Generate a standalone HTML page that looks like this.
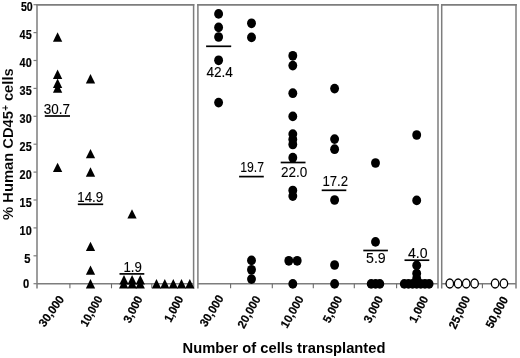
<!DOCTYPE html>
<html><head><meta charset="utf-8"><title>chart</title>
<style>
html,body{margin:0;padding:0;background:#fff;}
svg{display:block;filter:grayscale(1);}
text{font-family:"Liberation Sans",sans-serif;fill:#000;}
.b{font-weight:bold;}
.r{font-weight:normal;}
</style></head><body>
<svg width="520" height="358" viewBox="0 0 520 358">
<rect width="520" height="358" fill="#fff"/>
<line x1="37.0" y1="3.9" x2="37.0" y2="288.5" stroke="#7d7d7d" stroke-width="1.5"/>
<line x1="193.6" y1="3.9" x2="193.6" y2="288.5" stroke="#7d7d7d" stroke-width="1.5"/>
<line x1="36.3" y1="4.8" x2="194.29999999999998" y2="4.8" stroke="#7d7d7d" stroke-width="1.8"/>
<line x1="37.0" y1="283.8" x2="193.6" y2="283.8" stroke="#7d7d7d" stroke-width="1.6"/>
<line x1="69.9" y1="283.7" x2="69.9" y2="288.3" stroke="#6a6a6a" stroke-width="1.1"/>
<line x1="111.5" y1="283.7" x2="111.5" y2="288.3" stroke="#6a6a6a" stroke-width="1.1"/>
<line x1="151.8" y1="283.7" x2="151.8" y2="288.3" stroke="#6a6a6a" stroke-width="1.1"/>
<line x1="197.9" y1="3.9" x2="197.9" y2="288.5" stroke="#7d7d7d" stroke-width="1.5"/>
<line x1="438.0" y1="3.9" x2="438.0" y2="288.5" stroke="#7d7d7d" stroke-width="1.5"/>
<line x1="197.20000000000002" y1="4.8" x2="438.7" y2="4.8" stroke="#7d7d7d" stroke-width="1.8"/>
<line x1="197.9" y1="283.8" x2="438.0" y2="283.8" stroke="#7d7d7d" stroke-width="1.6"/>
<line x1="230.6" y1="283.7" x2="230.6" y2="288.3" stroke="#6a6a6a" stroke-width="1.1"/>
<line x1="272.3" y1="283.7" x2="272.3" y2="288.3" stroke="#6a6a6a" stroke-width="1.1"/>
<line x1="313.3" y1="283.7" x2="313.3" y2="288.3" stroke="#6a6a6a" stroke-width="1.1"/>
<line x1="354.3" y1="283.7" x2="354.3" y2="288.3" stroke="#6a6a6a" stroke-width="1.1"/>
<line x1="396.6" y1="283.7" x2="396.6" y2="288.3" stroke="#6a6a6a" stroke-width="1.1"/>
<line x1="441.7" y1="3.9" x2="441.7" y2="288.5" stroke="#7d7d7d" stroke-width="1.5"/>
<line x1="516.0" y1="3.9" x2="516.0" y2="288.5" stroke="#7d7d7d" stroke-width="1.5"/>
<line x1="441.0" y1="4.8" x2="516.7" y2="4.8" stroke="#7d7d7d" stroke-width="1.8"/>
<line x1="441.7" y1="283.8" x2="516.0" y2="283.8" stroke="#7d7d7d" stroke-width="1.6"/>
<line x1="482.4" y1="283.7" x2="482.4" y2="288.3" stroke="#6a6a6a" stroke-width="1.1"/>
<line x1="33.5" y1="283.7" x2="37" y2="283.7" stroke="#7d7d7d" stroke-width="1.2"/>
<line x1="33.5" y1="255.79999999999998" x2="37" y2="255.79999999999998" stroke="#7d7d7d" stroke-width="1.2"/>
<line x1="33.5" y1="227.89999999999998" x2="37" y2="227.89999999999998" stroke="#7d7d7d" stroke-width="1.2"/>
<line x1="33.5" y1="200.0" x2="37" y2="200.0" stroke="#7d7d7d" stroke-width="1.2"/>
<line x1="33.5" y1="172.1" x2="37" y2="172.1" stroke="#7d7d7d" stroke-width="1.2"/>
<line x1="33.5" y1="144.2" x2="37" y2="144.2" stroke="#7d7d7d" stroke-width="1.2"/>
<line x1="33.5" y1="116.29999999999998" x2="37" y2="116.29999999999998" stroke="#7d7d7d" stroke-width="1.2"/>
<line x1="33.5" y1="88.39999999999998" x2="37" y2="88.39999999999998" stroke="#7d7d7d" stroke-width="1.2"/>
<line x1="33.5" y1="60.5" x2="37" y2="60.5" stroke="#7d7d7d" stroke-width="1.2"/>
<line x1="33.5" y1="32.599999999999994" x2="37" y2="32.599999999999994" stroke="#7d7d7d" stroke-width="1.2"/>
<line x1="33.5" y1="4.699999999999989" x2="37" y2="4.699999999999989" stroke="#7d7d7d" stroke-width="1.2"/>
<text x="31.7" y="234.6" text-anchor="end" class="b" stroke="#000" stroke-width="0.18" font-size="12.2" textLength="12.1" lengthAdjust="spacingAndGlyphs">10</text>
<text x="31.7" y="206.7" text-anchor="end" class="b" stroke="#000" stroke-width="0.18" font-size="12.2" textLength="12.1" lengthAdjust="spacingAndGlyphs">15</text>
<text x="31.7" y="178.8" text-anchor="end" class="b" stroke="#000" stroke-width="0.18" font-size="12.2" textLength="12.1" lengthAdjust="spacingAndGlyphs">20</text>
<text x="31.7" y="150.9" text-anchor="end" class="b" stroke="#000" stroke-width="0.18" font-size="12.2" textLength="12.1" lengthAdjust="spacingAndGlyphs">25</text>
<text x="31.7" y="123.0" text-anchor="end" class="b" stroke="#000" stroke-width="0.18" font-size="12.2" textLength="12.1" lengthAdjust="spacingAndGlyphs">30</text>
<text x="31.7" y="95.1" text-anchor="end" class="b" stroke="#000" stroke-width="0.18" font-size="12.2" textLength="12.1" lengthAdjust="spacingAndGlyphs">35</text>
<text x="31.7" y="67.2" text-anchor="end" class="b" stroke="#000" stroke-width="0.18" font-size="12.2" textLength="12.1" lengthAdjust="spacingAndGlyphs">40</text>
<text x="31.7" y="39.3" text-anchor="end" class="b" stroke="#000" stroke-width="0.18" font-size="12.2" textLength="12.1" lengthAdjust="spacingAndGlyphs">45</text>
<text x="32.7" y="10.8" text-anchor="end" class="b" stroke="#000" stroke-width="0.18" font-size="12.2" textLength="11.8" lengthAdjust="spacingAndGlyphs">50</text>
<text x="30.4" y="262.9" text-anchor="end" class="b" stroke="#000" stroke-width="0.18" font-size="12.2" textLength="6.2" lengthAdjust="spacingAndGlyphs">5</text>
<text x="29.2" y="287.6" text-anchor="end" class="b" stroke="#000" stroke-width="0.18" font-size="12.2" textLength="6.2" lengthAdjust="spacingAndGlyphs">0</text>
<path d="M52.95 41.70 L57.60 32.30 L62.25 41.70Z" fill="#000"/>
<path d="M52.95 78.90 L57.60 69.50 L62.25 78.90Z" fill="#000"/>
<path d="M52.95 88.00 L57.60 78.60 L62.25 88.00Z" fill="#000"/>
<path d="M52.95 92.70 L57.60 83.30 L62.25 92.70Z" fill="#000"/>
<path d="M52.95 172.10 L57.60 162.70 L62.25 172.10Z" fill="#000"/>
<path d="M85.85 83.50 L90.50 74.10 L95.15 83.50Z" fill="#000"/>
<path d="M85.85 158.30 L90.50 148.90 L95.15 158.30Z" fill="#000"/>
<path d="M85.85 176.70 L90.50 167.30 L95.15 176.70Z" fill="#000"/>
<path d="M85.85 251.10 L90.50 241.70 L95.15 251.10Z" fill="#000"/>
<path d="M85.85 274.80 L90.50 265.40 L95.15 274.80Z" fill="#000"/>
<path d="M85.85 288.40 L90.50 279.00 L95.15 288.40Z" fill="#000"/>
<path d="M127.35 218.60 L132.00 209.20 L136.65 218.60Z" fill="#000"/>
<path d="M119.35 284.50 L124.00 275.10 L128.65 284.50Z" fill="#000"/>
<path d="M127.45 284.50 L132.10 275.10 L136.75 284.50Z" fill="#000"/>
<path d="M135.65 284.50 L140.30 275.10 L144.95 284.50Z" fill="#000"/>
<path d="M119.05 288.40 L123.70 279.00 L128.35 288.40Z" fill="#000"/>
<path d="M127.55 288.40 L132.20 279.00 L136.85 288.40Z" fill="#000"/>
<path d="M135.55 288.40 L140.20 279.00 L144.85 288.40Z" fill="#000"/>
<path d="M151.85 288.50 L156.50 279.10 L161.15 288.50Z" fill="#000"/>
<path d="M160.15 288.50 L164.80 279.10 L169.45 288.50Z" fill="#000"/>
<path d="M168.65 288.50 L173.30 279.10 L177.95 288.50Z" fill="#000"/>
<path d="M176.85 288.50 L181.50 279.10 L186.15 288.50Z" fill="#000"/>
<path d="M185.15 288.50 L189.80 279.10 L194.45 288.50Z" fill="#000"/>
<ellipse cx="218.60" cy="13.90" rx="4.45" ry="4.85" fill="#000"/>
<ellipse cx="218.60" cy="27.40" rx="4.45" ry="4.85" fill="#000"/>
<ellipse cx="218.60" cy="37.00" rx="4.45" ry="4.85" fill="#000"/>
<ellipse cx="218.60" cy="60.30" rx="4.45" ry="4.85" fill="#000"/>
<ellipse cx="218.60" cy="102.60" rx="4.45" ry="4.85" fill="#000"/>
<ellipse cx="251.50" cy="23.30" rx="4.45" ry="4.85" fill="#000"/>
<ellipse cx="251.50" cy="37.40" rx="4.45" ry="4.85" fill="#000"/>
<ellipse cx="251.50" cy="260.40" rx="4.45" ry="4.85" fill="#000"/>
<ellipse cx="251.50" cy="269.80" rx="4.45" ry="4.85" fill="#000"/>
<ellipse cx="251.50" cy="279.10" rx="4.45" ry="4.85" fill="#000"/>
<ellipse cx="292.80" cy="55.80" rx="4.45" ry="4.85" fill="#000"/>
<ellipse cx="292.80" cy="65.60" rx="4.45" ry="4.85" fill="#000"/>
<ellipse cx="292.80" cy="93.20" rx="4.45" ry="4.85" fill="#000"/>
<ellipse cx="292.80" cy="116.40" rx="4.45" ry="4.85" fill="#000"/>
<ellipse cx="292.80" cy="134.10" rx="4.45" ry="4.85" fill="#000"/>
<ellipse cx="292.80" cy="139.50" rx="4.45" ry="4.85" fill="#000"/>
<ellipse cx="292.80" cy="144.50" rx="4.45" ry="4.85" fill="#000"/>
<ellipse cx="292.80" cy="157.70" rx="4.45" ry="4.85" fill="#000"/>
<ellipse cx="292.80" cy="190.50" rx="4.45" ry="4.85" fill="#000"/>
<ellipse cx="292.80" cy="196.10" rx="4.45" ry="4.85" fill="#000"/>
<ellipse cx="288.80" cy="260.80" rx="4.45" ry="4.85" fill="#000"/>
<ellipse cx="297.20" cy="260.80" rx="4.45" ry="4.85" fill="#000"/>
<ellipse cx="292.80" cy="283.90" rx="4.45" ry="4.85" fill="#000"/>
<ellipse cx="334.60" cy="88.60" rx="4.45" ry="4.85" fill="#000"/>
<ellipse cx="334.60" cy="139.10" rx="4.45" ry="4.85" fill="#000"/>
<ellipse cx="334.60" cy="149.20" rx="4.45" ry="4.85" fill="#000"/>
<ellipse cx="334.60" cy="200.00" rx="4.45" ry="4.85" fill="#000"/>
<ellipse cx="334.60" cy="265.00" rx="4.45" ry="4.85" fill="#000"/>
<ellipse cx="334.60" cy="283.90" rx="4.45" ry="4.85" fill="#000"/>
<ellipse cx="375.50" cy="163.00" rx="4.45" ry="4.85" fill="#000"/>
<ellipse cx="375.50" cy="241.90" rx="4.45" ry="4.85" fill="#000"/>
<ellipse cx="371.20" cy="283.90" rx="4.45" ry="4.85" fill="#000"/>
<ellipse cx="375.60" cy="283.90" rx="4.45" ry="4.85" fill="#000"/>
<ellipse cx="379.80" cy="283.90" rx="4.45" ry="4.85" fill="#000"/>
<ellipse cx="416.70" cy="135.00" rx="4.45" ry="4.85" fill="#000"/>
<ellipse cx="416.70" cy="200.40" rx="4.45" ry="4.85" fill="#000"/>
<ellipse cx="416.70" cy="265.40" rx="4.45" ry="4.85" fill="#000"/>
<ellipse cx="416.70" cy="273.50" rx="4.45" ry="4.85" fill="#000"/>
<ellipse cx="416.70" cy="278.50" rx="4.45" ry="4.85" fill="#000"/>
<ellipse cx="404.30" cy="283.90" rx="4.45" ry="4.85" fill="#000"/>
<ellipse cx="408.43" cy="283.90" rx="4.45" ry="4.85" fill="#000"/>
<ellipse cx="412.56" cy="283.90" rx="4.45" ry="4.85" fill="#000"/>
<ellipse cx="416.69" cy="283.90" rx="4.45" ry="4.85" fill="#000"/>
<ellipse cx="420.82" cy="283.90" rx="4.45" ry="4.85" fill="#000"/>
<ellipse cx="424.95" cy="283.90" rx="4.45" ry="4.85" fill="#000"/>
<ellipse cx="429.08" cy="283.90" rx="4.45" ry="4.85" fill="#000"/>
<ellipse cx="449.8" cy="283.5" rx="3.75" ry="4.5" fill="#fff" stroke="#000" stroke-width="1.3"/>
<ellipse cx="458.1" cy="283.5" rx="3.75" ry="4.5" fill="#fff" stroke="#000" stroke-width="1.3"/>
<ellipse cx="466.2" cy="283.5" rx="3.75" ry="4.5" fill="#fff" stroke="#000" stroke-width="1.3"/>
<ellipse cx="474.6" cy="283.5" rx="3.75" ry="4.5" fill="#fff" stroke="#000" stroke-width="1.3"/>
<ellipse cx="495.1" cy="283.5" rx="3.75" ry="4.5" fill="#fff" stroke="#000" stroke-width="1.3"/>
<ellipse cx="503.9" cy="283.5" rx="3.75" ry="4.5" fill="#fff" stroke="#000" stroke-width="1.3"/>
<line x1="44.8" y1="116.0" x2="70.0" y2="116.0" stroke="#000" stroke-width="1.7"/>
<text x="43.8" y="114.2" class="r" stroke="#000" stroke-width="0.1" font-size="13.9" textLength="26.2" lengthAdjust="spacingAndGlyphs">30.7</text>
<line x1="77.8" y1="204.3" x2="103.2" y2="204.3" stroke="#000" stroke-width="1.7"/>
<text x="77.3" y="201.8" class="r" stroke="#000" stroke-width="0.1" font-size="13.9" textLength="25.9" lengthAdjust="spacingAndGlyphs">14.9</text>
<line x1="119.5" y1="273.9" x2="144.3" y2="273.9" stroke="#000" stroke-width="1.7"/>
<text x="123.4" y="271.7" class="r" stroke="#000" stroke-width="0.1" font-size="13.9" textLength="18.4" lengthAdjust="spacingAndGlyphs">1.9</text>
<line x1="206.1" y1="46.3" x2="231.2" y2="46.3" stroke="#000" stroke-width="1.7"/>
<text x="206.4" y="77.1" class="r" stroke="#000" stroke-width="0.1" font-size="13.9" textLength="26.5" lengthAdjust="spacingAndGlyphs">42.4</text>
<line x1="239.1" y1="176.6" x2="263.8" y2="176.6" stroke="#000" stroke-width="1.7"/>
<text x="240.2" y="172.1" class="r" stroke="#000" stroke-width="0.1" font-size="13.9" textLength="23.8" lengthAdjust="spacingAndGlyphs">19.7</text>
<line x1="280.7" y1="162.5" x2="305.5" y2="162.5" stroke="#000" stroke-width="1.7"/>
<text x="281.0" y="176.7" class="r" stroke="#000" stroke-width="0.1" font-size="13.9" textLength="26.3" lengthAdjust="spacingAndGlyphs">22.0</text>
<line x1="321.7" y1="190.3" x2="346.3" y2="190.3" stroke="#000" stroke-width="1.7"/>
<text x="322.4" y="185.6" class="r" stroke="#000" stroke-width="0.1" font-size="13.9" textLength="25.7" lengthAdjust="spacingAndGlyphs">17.2</text>
<line x1="363.3" y1="250.5" x2="387.9" y2="250.5" stroke="#000" stroke-width="1.7"/>
<text x="366.0" y="262.7" class="r" stroke="#000" stroke-width="0.1" font-size="13.9" textLength="19.7" lengthAdjust="spacingAndGlyphs">5.9</text>
<line x1="404.5" y1="260.2" x2="429.3" y2="260.2" stroke="#000" stroke-width="1.7"/>
<text x="407.9" y="257.5" class="r" stroke="#000" stroke-width="0.1" font-size="13.9" textLength="19.6" lengthAdjust="spacingAndGlyphs">4.0</text>
<text transform="translate(44.58 327.71) rotate(-55.0)" class="b" stroke="#000" stroke-width="0.2" font-size="11.8" textLength="34.8" lengthAdjust="spacingAndGlyphs">30,000</text>
<text transform="translate(86.66 327.54) rotate(-60.4)" class="b" stroke="#000" stroke-width="0.2" font-size="11.8" textLength="33.1" lengthAdjust="spacingAndGlyphs">10,000</text>
<text transform="translate(129.94 323.66) rotate(-62.6)" class="b" stroke="#000" stroke-width="0.2" font-size="11.8" textLength="28.3" lengthAdjust="spacingAndGlyphs">3,000</text>
<text transform="translate(170.66 322.89) rotate(-61.6)" class="b" stroke="#000" stroke-width="0.2" font-size="11.8" textLength="27.6" lengthAdjust="spacingAndGlyphs">1,000</text>
<text transform="translate(206.09 327.61) rotate(-58.5)" class="b" stroke="#000" stroke-width="0.2" font-size="11.8" textLength="34.5" lengthAdjust="spacingAndGlyphs">30,000</text>
<text transform="translate(243.97 329.13) rotate(-60.6)" class="b" stroke="#000" stroke-width="0.2" font-size="11.8" textLength="34.9" lengthAdjust="spacingAndGlyphs">20,000</text>
<text transform="translate(287.09 329.12) rotate(-60.8)" class="b" stroke="#000" stroke-width="0.2" font-size="11.8" textLength="34.9" lengthAdjust="spacingAndGlyphs">10,000</text>
<text transform="translate(329.54 323.66) rotate(-62.6)" class="b" stroke="#000" stroke-width="0.2" font-size="11.8" textLength="28.3" lengthAdjust="spacingAndGlyphs">5,000</text>
<text transform="translate(370.34 323.66) rotate(-62.6)" class="b" stroke="#000" stroke-width="0.2" font-size="11.8" textLength="28.3" lengthAdjust="spacingAndGlyphs">3,000</text>
<text transform="translate(415.74 323.66) rotate(-62.6)" class="b" stroke="#000" stroke-width="0.2" font-size="11.8" textLength="28.3" lengthAdjust="spacingAndGlyphs">1,000</text>
<text transform="translate(455.47 329.69) rotate(-64.2)" class="b" stroke="#000" stroke-width="0.2" font-size="11.8" textLength="34.8" lengthAdjust="spacingAndGlyphs">25,000</text>
<text transform="translate(492.13 329.11) rotate(-61.3)" class="b" stroke="#000" stroke-width="0.2" font-size="11.8" textLength="33.8" lengthAdjust="spacingAndGlyphs">50,000</text>
<text x="182.6" y="352.8" class="b" font-size="13.8" textLength="202.8" lengthAdjust="spacingAndGlyphs">Number of cells transplanted</text>
<text transform="translate(12.9 219.9) rotate(-90)" class="b" font-size="15.4" stroke="#fff" stroke-width="0.1" textLength="151.6" lengthAdjust="spacingAndGlyphs">% Human CD45<tspan font-size="10.5" dy="-4.4">+</tspan><tspan dy="4.4"> cells</tspan></text>
</svg>
</body></html>
